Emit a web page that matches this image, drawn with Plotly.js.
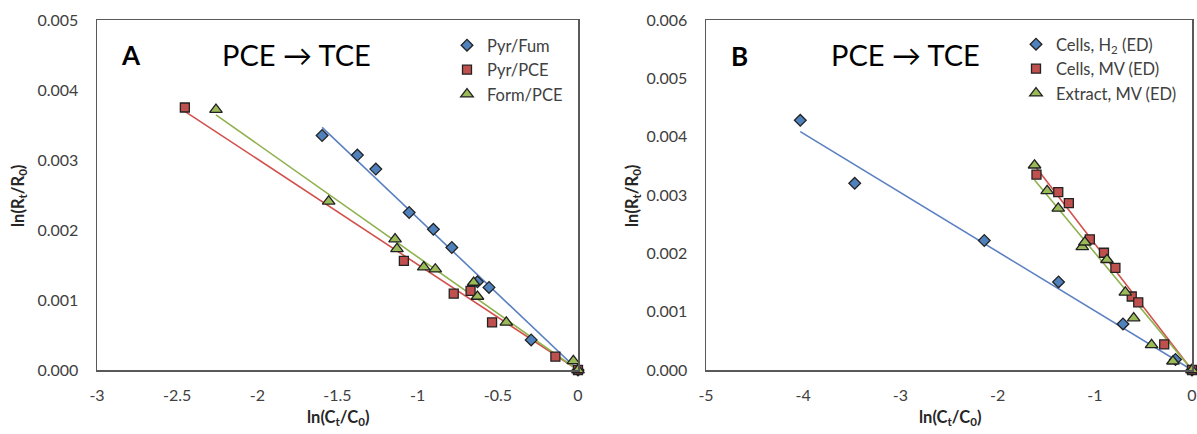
<!DOCTYPE html>
<html>
<head>
<meta charset="utf-8">
<script src="https://cdn.plot.ly/plotly-3.0.1.min.js"></script>
<style>
  html, body { margin: 0; padding: 0; background: #fff; }
  #chart { width: 1197px; height: 434px; }
</style>
</head>
<body>
<div id="chart"></div>
<script>
// Panel A: PCE -> TCE, three electron donor / acceptor pairs
const pyrFumX  = [-1.596, -1.376, -1.261, -1.053, -0.902, -0.787, -0.627, -0.555, -0.292, 0];
const pyrFumY  = [0.00335, 0.00307, 0.00287, 0.00225, 0.00201, 0.00175, 0.00126, 0.00118, 0.00043, 0];
const pyrPceX  = [-2.452, -1.086, -0.775, -0.670, -0.536, -0.141, 0];
const pyrPceY  = [0.00375, 0.00156, 0.00109, 0.00113, 0.00068, 0.00019, 0];
const formPceX = [-2.258, -1.555, -1.141, -1.129, -0.962, -0.890, -0.651, -0.627, -0.447, -0.029, 0];
const formPceY = [0.00372, 0.00241, 0.00187, 0.00173, 0.00147, 0.00144, 0.00125, 0.00105, 0.00068, 0.00013, 0];

// Panel B: PCE -> TCE, cells vs. cell extract
const cellsH2X   = [-4.03, -3.47, -2.137, -1.373, -0.710, -0.170, 0];
const cellsH2Y   = [0.00428, 0.00320, 0.00222, 0.00151, 0.00079, 0.00018, 0];
const cellsMvX   = [-1.600, -1.376, -1.267, -1.051, -0.906, -0.788, -0.620, -0.553, -0.286, 0];
const cellsMvY   = [0.00335, 0.00305, 0.00286, 0.00224, 0.00201, 0.00175, 0.00126, 0.00116, 0.00044, 0];
const extractX   = [-1.620, -1.490, -1.376, -1.129, -1.102, -0.875, -0.686, -0.600, -0.416, -0.196, 0];
const extractY   = [0.00351, 0.00307, 0.00277, 0.00211, 0.00219, 0.00189, 0.00133, 0.00089, 0.00043, 0.00015, 0];

// Legend names
const namesA = ['Pyr/Fum', 'Pyr/PCE', 'Form/PCE'];
const namesB = ['Cells, H<sub>2</sub> (ED)', 'Cells, MV (ED)', 'Extract, MV (ED)'];

// Axis ticks
const xTicksA = [-3, -2.5, -2, -1.5, -1, -0.5, 0];
const xTicksB = [-5, -4, -3, -2, -1, 0];
const yTicksA = [0, 0.001, 0.002, 0.003, 0.004, 0.005];
const yTicksB = [0, 0.001, 0.002, 0.003, 0.004, 0.005, 0.006];

const FILL = { blue: '#4F81BD', red: '#C0504D', green: '#9BBB59' };
const LINE = { blue: '#5B80C2', red: '#D2514C', green: '#8FB14E' };
const SYMBOL = { blue: ['diamond', 9], red: ['square', 9], green: ['triangle-up', 11] };

// Linear trendline forced through the origin (least squares)
function trend(xs, ys) {
  let sxy = 0, sxx = 0;
  for (let i = 0; i < xs.length; i++) { sxy += xs[i] * ys[i]; sxx += xs[i] * xs[i]; }
  const k = sxy / sxx;
  const x0 = Math.min(...xs);
  return { x: [x0, 0], y: [k * x0, 0] };
}

function lineTrace(xs, ys, color, xa, ya) {
  const t = trend(xs, ys);
  return { x: t.x, y: t.y, xaxis: xa, yaxis: ya, mode: 'lines', type: 'scatter',
           line: { color: LINE[color], width: 1.6 }, showlegend: false, hoverinfo: 'skip',
           cliponaxis: false };
}

function pointTrace(xs, ys, color, name, xa, ya, legend) {
  return { x: xs, y: ys, xaxis: xa, yaxis: ya, mode: 'markers', type: 'scatter', name: name,
           legend: legend, cliponaxis: false,
           marker: { symbol: SYMBOL[color][0], size: SYMBOL[color][1], color: FILL[color],
                     line: { color: '#222222', width: 1.3 } } };
}

const data = [
  lineTrace(pyrFumX, pyrFumY, 'blue', 'x', 'y'),
  lineTrace(pyrPceX, pyrPceY, 'red', 'x', 'y'),
  lineTrace(formPceX, formPceY, 'green', 'x', 'y'),
  lineTrace(cellsH2X, cellsH2Y, 'blue', 'x2', 'y2'),
  lineTrace(cellsMvX, cellsMvY, 'red', 'x2', 'y2'),
  lineTrace(extractX, extractY, 'green', 'x2', 'y2'),
  pointTrace(pyrFumX, pyrFumY, 'blue', namesA[0], 'x', 'y', 'legend'),
  pointTrace(pyrPceX, pyrPceY, 'red', namesA[1], 'x', 'y', 'legend'),
  pointTrace(formPceX, formPceY, 'green', namesA[2], 'x', 'y', 'legend'),
  pointTrace(cellsH2X, cellsH2Y, 'blue', namesB[0], 'x2', 'y2', 'legend2'),
  pointTrace(cellsMvX, cellsMvY, 'red', namesB[1], 'x2', 'y2', 'legend2'),
  pointTrace(extractX, extractY, 'green', namesB[2], 'x2', 'y2', 'legend2')
];

const W = 1197, H = 434, MT = 20, MB = 64;
const PH = H - MT - MB;
const px = v => v / W;
const py = v => 1 - (v - MT) / PH;

const FONT = 'Lato, "Open Sans", sans-serif';
const tickFont = { family: FONT, size: 16, color: '#404040' };

const axisBase = {
  showline: true, mirror: true, linecolor: '#595959', linewidth: 1.5,
  showgrid: false, zeroline: false, ticks: '', tickfont: tickFont, fixedrange: true
};

const legendBase = {
  font: { family: FONT, size: 16.5, color: '#404040' },
  bgcolor: 'rgba(0,0,0,0)', borderwidth: 0, xanchor: 'left', yanchor: 'top',
  itemclick: false, itemdoubleclick: false, tracegroupgap: 0
};

const titleFont = { family: FONT, size: 16.5, color: '#262626' };

function label(text, x, y, font, angle) {
  return { text: text, x: px(x), y: py(y), xref: 'paper', yref: 'paper', showarrow: false,
           xanchor: 'center', yanchor: 'middle', textangle: angle || 0, font: font };
}

const panelFont = { family: FONT, size: 26, color: '#000' };
const reactionFont = { family: FONT, size: 29, color: '#000' };

const layout = {
  width: W, height: H,
  margin: { l: 0, r: 0, t: MT, b: MB },
  paper_bgcolor: '#ffffff', plot_bgcolor: '#ffffff',
  showlegend: true,
  xaxis: Object.assign({}, axisBase, { domain: [px(97), px(578)], range: [-3, 0],
          tickvals: xTicksA, ticktext: xTicksA.map(String), ticklabelstandoff: 10, anchor: 'y' }),
  yaxis: Object.assign({}, axisBase, { domain: [0, 1], range: [0, 0.005],
          tickvals: yTicksA, tickformat: '.3f', ticklabelstandoff: 14, anchor: 'x' }),
  xaxis2: Object.assign({}, axisBase, { domain: [px(706), px(1192)], range: [-5, 0],
          tickvals: xTicksB, ticktext: xTicksB.map(String), ticklabelstandoff: 10, anchor: 'y2' }),
  yaxis2: Object.assign({}, axisBase, { domain: [0, 1], range: [0, 0.006],
          tickvals: yTicksB, tickformat: '.3f', ticklabelstandoff: 14, anchor: 'x2' }),
  legend: Object.assign({}, legendBase, { x: px(447), y: py(28) }),
  legend2: Object.assign({}, legendBase, { x: px(1016), y: py(27) }),
  annotations: [
    label('<b>A</b>', 131, 55, panelFont),
    label('PCE → TCE', 296, 55, reactionFont),
    label('<b>B</b>', 739, 56, panelFont),
    label('PCE → TCE', 905, 55, reactionFont),
    label('<b>ln(C<sub>t</sub>/C<sub>0</sub>)</b>', 338, 417, titleFont),
    label('<b>ln(C<sub>t</sub>/C<sub>0</sub>)</b>', 950, 417, titleFont),
    label('<b>ln(R<sub>t</sub>/R<sub>0</sub>)</b>', 18, 196, titleFont, -90),
    label('<b>ln(R<sub>t</sub>/R<sub>0</sub>)</b>', 632, 196, titleFont, -90)
  ]
};

Plotly.newPlot('chart', data, layout, { staticPlot: true, displayModeBar: false });
</script>
</body>
</html>
